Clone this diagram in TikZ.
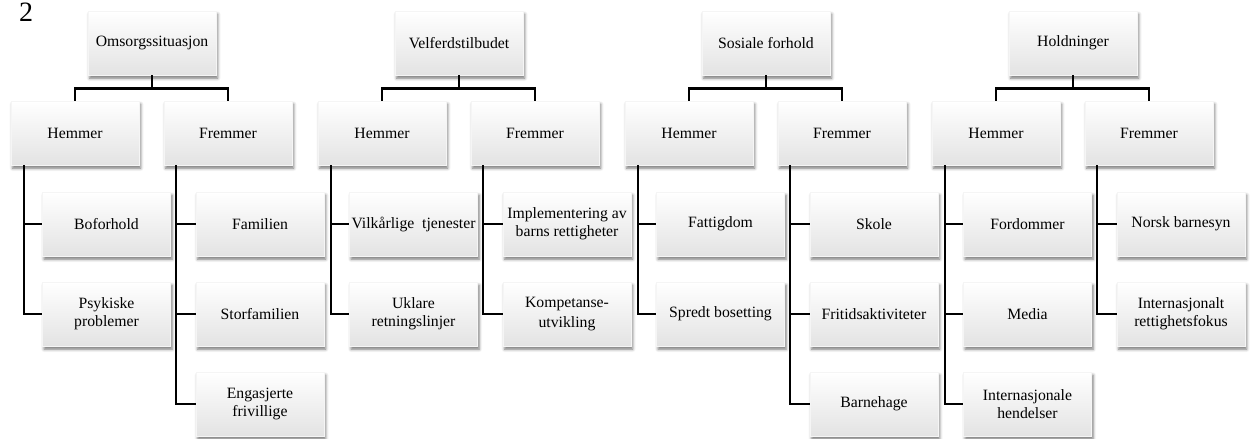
\documentclass[tikz,border=0pt]{standalone}
\usepackage{fontspec}
\setmainfont{Liberation Serif}
\usetikzlibrary{shadows.blur}
\begin{document}
\begin{tikzpicture}[x=0.75pt,y=-0.75pt,
  box/.style={rectangle, minimum width=96pt, minimum height=48pt, inner sep=1pt,
    align=center, top color=white, middle color=white, bottom color=black!11,
    draw=black!4, line width=0.3pt,
    font=\fontsize{11.8}{13.2}\selectfont,
    blur shadow={shadow xshift=1.2pt, shadow yshift=-2.4pt, shadow blur radius=2.2pt, shadow opacity=55}},
  conn/.style={line width=2pt, draw=black}]
\useasboundingbox (0,0) rectangle (1250,439);
\node[font=\fontsize{21}{22}\selectfont] (num) at (26,12) {2};
\foreach \g/\xo/\toplab in {1/11/Omsorgssituasjon, 2/318/Velferdstilbudet, 3/625/Sosiale forhold, 4/932/Holdninger}{
  \node[box] (g\g top) at (\xo+141,43) {\toplab};
  \node[box] (g\g h) at (\xo+64,133) {Hemmer};
  \node[box] (g\g f) at (\xo+217,133) {Fremmer};
  \coordinate (g\g hv) at (\xo+13,165);
  \coordinate (g\g fv) at (\xo+165,165);
  \draw[conn] (g\g top.south) -- ++(0,13) -| (g\g h.north);
  \draw[conn] (g\g top.south) -- ++(0,13) -| (g\g f.north);
}
% group 1 children
\node[box] (g1h1) at (11+95.5,224) {Boforhold};
\node[box] (g1h2) at (11+95.5,314) {Psykiske\\problemer};
\node[box] (g1f1) at (11+249,224) {Familien};
\node[box] (g1f2) at (11+249,314) {Storfamilien};
\node[box] (g1f3) at (11+249,404) {Engasjerte\\frivillige};
% group 2 children
\node[box] (g2h1) at (318+95.5,224) {Vilkårlige\ \ tjenester};
\node[box] (g2h2) at (318+95.5,314) {Uklare\\retningslinjer};
\node[box] (g2f1) at (318+249,224) {Implementering av\\barns rettigheter};
\node[box] (g2f2) at (318+249,314) {Kompetanse-\\[2pt]utvikling};
% group 3 children
\node[box] (g3h1) at (625+95.5,224) {Fattigdom};
\node[box] (g3h2) at (625+95.5,314) {Spredt bosetting};
\node[box] (g3f1) at (625+249,224) {Skole};
\node[box] (g3f2) at (625+249,314) {Fritidsaktiviteter};
\node[box] (g3f3) at (625+249,404) {Barnehage};
% group 4 children
\node[box] (g4h1) at (932+95.5,224) {Fordommer};
\node[box] (g4h2) at (932+95.5,314) {Media};
\node[box] (g4h3) at (932+95.5,404) {Internasjonale\\hendelser};
\node[box] (g4f1) at (932+249,224) {Norsk barnesyn};
\node[box] (g4f2) at (932+249,314) {Internasjonalt\\rettighetsfokus};
% connectors to children
\draw[conn] (g1hv) |- (g1h1.west);
\draw[conn] (g1hv) |- (g1h2.west);
\draw[conn] (g1fv) |- (g1f1.west);
\draw[conn] (g1fv) |- (g1f2.west);
\draw[conn] (g1fv) |- (g1f3.west);
\draw[conn] (g2hv) |- (g2h1.west);
\draw[conn] (g2hv) |- (g2h2.west);
\draw[conn] (g2fv) |- (g2f1.west);
\draw[conn] (g2fv) |- (g2f2.west);
\draw[conn] (g3hv) |- (g3h1.west);
\draw[conn] (g3hv) |- (g3h2.west);
\draw[conn] (g3fv) |- (g3f1.west);
\draw[conn] (g3fv) |- (g3f2.west);
\draw[conn] (g3fv) |- (g3f3.west);
\draw[conn] (g4hv) |- (g4h1.west);
\draw[conn] (g4hv) |- (g4h2.west);
\draw[conn] (g4hv) |- (g4h3.west);
\draw[conn] (g4fv) |- (g4f1.west);
\draw[conn] (g4fv) |- (g4f2.west);
\end{tikzpicture}
\end{document}
